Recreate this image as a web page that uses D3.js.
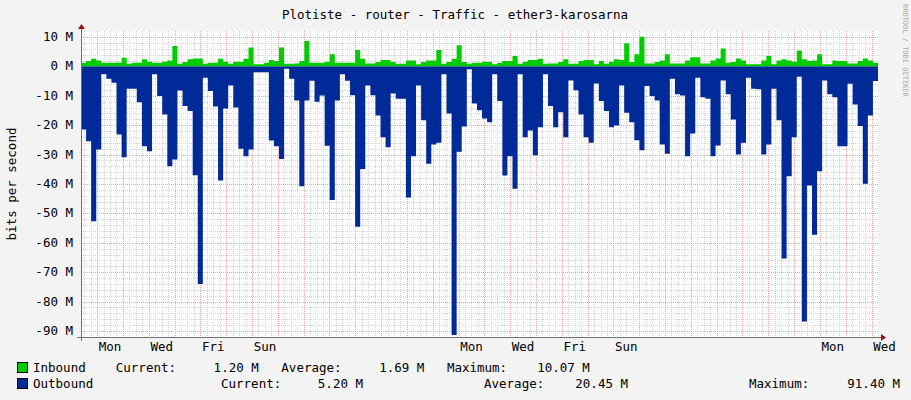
<!DOCTYPE html>
<html>
<head>
<meta charset="utf-8">
<script src="https://cdn.jsdelivr.net/npm/d3@7"></script>
<style>
  body { margin: 0; background: #f3f3f3; }
  text { font-family: "DejaVu Sans Mono", monospace; font-size: 12.5px; fill: #000; white-space: pre; }
</style>
</head>
<body>
<div class="chart"></div>
<script>
// Data (Mbit/s, one value per sample, ~4.7 h step)
const outbound = [21.5,25.5,52.7,28.3,2.7,4.2,5.6,23.2,30.9,7.6,7.6,12.2,27.2,28.9,2.7,10.1,16.4,34,31.7,8.2,
  13.5,15.2,37,74,3.9,8.4,13.6,38.8,14.3,6.5,14,28,30.6,28.3,2,2,2,25.2,27.2,31.5,
  0.8,4.2,11.6,40.8,11.6,4.9,12,9.9,27,45.4,11.6,2.7,4.9,9.8,54.5,34.9,6.5,9.8,16.7,24.1,
  27.5,9.2,11,11,44.6,30.6,6.5,18.3,33.1,26.6,26,2.7,16,91.4,29,20.4,1,12.6,14.9,17.7,
  19,2.7,11.8,37.1,30.6,41.6,2.7,24.1,21.8,30.2,20.7,2.7,13.5,20.7,15.6,24.1,4.8,8.1,16.4,24.1,
  26,5.8,11.8,15.2,20.7,20.1,6.5,15.8,19,25.1,28.5,6.7,10.1,11.6,26.6,29.7,4.2,9.5,9.9,30.6,
  22.8,3.9,10.5,11,30.6,26.9,4.8,9.5,18.1,30,26,3.9,7.6,7.8,30,26.6,7.6,18.3,65.3,37.4,
  24.1,3.5,86.8,40.5,57.3,35.7,4.8,9.5,10.5,27.2,27.2,5.9,13,20.3,39.9,16.7,5]
const inbound = [1.2,1.8,2.6,2.0,1.2,1.2,1.2,1.3,2.9,0.9,1.2,1.2,2.4,1.6,1.2,1.2,1.6,2.0,6.9,0.9,
  1.5,2.4,2.7,2.7,0.9,1.2,1.2,2.6,1.6,0.9,1.6,1.6,2.6,6.4,0.7,0.7,1.2,2.2,1.8,6.4,
  0.9,0.9,1.0,1.8,8.6,1.2,1.2,1.2,1.6,4.1,1.2,1.2,1.2,1.2,5.6,2.6,1.0,1.0,1.5,2.2,
  2.2,1.5,0.9,0.9,2.0,2.0,0.7,1.5,2.0,2.0,5.6,0.9,1.5,2.6,7.2,1.5,0.9,1.2,1.2,1.6,
  1.6,0.7,1.2,1.8,1.8,3.5,0.9,1.6,2.2,2.2,2.6,0.9,1.0,1.0,1.5,2.4,0.9,0.9,1.8,2.2,
  2.2,0.7,1.8,0.9,1.6,2.4,2.2,7.9,1.5,4.1,10.07,1.0,1.0,1.5,2.0,4.1,1.0,1.0,1.0,2.0,
  3.1,3.1,1.0,1.0,2.0,2.7,6.1,1.2,1.5,2.7,2.0,0.7,0.7,0.7,2.0,3.5,0.7,2.0,2.4,2.0,
  1.6,5.4,2.4,1.8,2.0,4.1,0.7,0.7,2.0,1.8,1.8,1.0,1.0,1.8,2.7,2.0,1.2]
const yTicks = [10,0,-10,-20,-30,-40,-50,-60,-70,-80,-90]
const dayNames = ['Sun','Mon','Tue','Wed','Thu','Fri','Sat']
const startTime = new Date(2023, 11, 31, 9, 0)
const totalHours = 741
const legendIn = ['Inbound', '1.20 M', '1.69 M', '10.07 M']
const legendOut = ['Outbound', '5.20 M', '20.45 M', '91.40 M']

const W = 911, H = 400
const plot = { x0: 81, x1: 878, y0: 31, y1: 337 }
const endTime = d3.timeHour.offset(startTime, totalHours)
const stepMs = (endTime - startTime) / outbound.length
const tAt = i => new Date(+startTime + i * stepMs)

const xScale = d3.scaleTime().domain([startTime, endTime]).range([plot.x0, plot.x1])
const yScale = d3.scaleLinear().domain([-90, 10]).range([331, 37])

const svg = d3.select('.chart').append('svg').attr('width', W).attr('height', H)
svg.append('rect').attr('width', W).attr('height', H).attr('fill', '#f3f3f3')
svg.append('rect').attr('x', plot.x0).attr('y', plot.y0)
  .attr('width', plot.x1 - plot.x0).attr('height', plot.y1 - plot.y0).attr('fill', '#fff')

const grid = svg.append('g')
// minor grid
d3.range(-92, 12, 2).forEach(v => {
  if (v % 10 === 0) return
  grid.append('line').attr('x1', plot.x0).attr('x2', plot.x1)
    .attr('y1', Math.round(yScale(v)) + 0.5).attr('y2', Math.round(yScale(v)) + 0.5)
    .attr('stroke', '#d4d4d4').attr('stroke-dasharray', '1,1')
})
d3.timeHour.every(6).range(startTime, endTime).forEach(t => {
  if (t.getHours() === 0) return
  const x = Math.round(xScale(t)) + 0.5
  grid.append('line').attr('x1', x).attr('x2', x).attr('y1', plot.y0).attr('y2', plot.y1)
    .attr('stroke', '#d4d4d4').attr('stroke-dasharray', '1,1')
})
// major grid
yTicks.forEach(v => {
  const y = Math.round(yScale(v)) + 0.5
  grid.append('line').attr('x1', plot.x0).attr('x2', plot.x1).attr('y1', y).attr('y2', y)
    .attr('stroke', '#f0a0a0').attr('stroke-dasharray', '1,1')
})
d3.timeDay.range(startTime, endTime).forEach(t => {
  const x = Math.round(xScale(t)) + 0.5
  grid.append('line').attr('x1', x).attr('x2', x).attr('y1', plot.y0).attr('y2', plot.y1)
    .attr('stroke', '#f0a0a0').attr('stroke-dasharray', '1,1')
})

// areas
const steps = arr => arr.map((v, i) => ({ t: tAt(i), v })).concat([{ t: endTime, v: arr[arr.length - 1] }])
const areaGen = d3.area().curve(d3.curveStepAfter).x(d => xScale(d.t)).y0(yScale(0))
svg.append('path').datum(steps(inbound)).attr('fill', '#00cc00')
  .attr('d', areaGen.y1(d => yScale(d.v)))
svg.append('path').datum(steps(outbound)).attr('fill', '#002a97')
  .attr('d', areaGen.y1(d => yScale(-d.v)))

// axes
svg.append('line').attr('x1', plot.x0 - 4).attr('x2', plot.x1 + 4).attr('y1', plot.y1 + 0.5).attr('y2', plot.y1 + 0.5)
  .attr('stroke', '#707070')
svg.append('line').attr('x1', plot.x0 + 0.5).attr('x2', plot.x0 + 0.5).attr('y1', plot.y0 - 4).attr('y2', plot.y1 + 4)
  .attr('stroke', '#707070')
svg.append('path').attr('d', `M${plot.x1 + 3},${plot.y1 - 3}L${plot.x1 + 8},${plot.y1 + 0.5}L${plot.x1 + 3},${plot.y1 + 4}Z`).attr('fill', '#a01010')
svg.append('path').attr('d', `M${plot.x0 - 3},${plot.y0 - 2}L${plot.x0 + 0.5},${plot.y0 - 7}L${plot.x0 + 4},${plot.y0 - 2}Z`).attr('fill', '#a01010')

yTicks.forEach(v => {
  svg.append('text').attr('x', 73).attr('y', yScale(v) + 4).attr('text-anchor', 'end').text(`${v} M`)
})
d3.timeDay.range(startTime, endTime).filter(t => t.getDay() % 2 === 1 || t.getDay() === 0)
  .forEach(t => {
    const mid = d3.timeHour.offset(t, 12)
    const diff = Math.round((t - d3.timeDay(new Date(2024, 0, 1))) / 864e5)
    if (((diff % 2) + 2) % 2 !== 0) return
    svg.append('text').attr('x', xScale(mid)).attr('y', 351).attr('text-anchor', 'middle').text(dayNames[t.getDay()])
  })

// title + labels
svg.append('text').attr('x', 455).attr('y', 19).attr('text-anchor', 'middle')
  .text('Plotiste - router - Traffic - ether3-karosarna')
svg.append('text').attr('transform', 'translate(16,184) rotate(-90)').attr('text-anchor', 'middle')
  .text('bits per second')
svg.append('text').attr('transform', 'translate(903,4) rotate(90)').style('font-size', '7px').attr('fill', '#999')
  .style('fill', '#aaa').text('RRDTOOL / TOBI OETIKER')

// legend
const legend = svg.append('g')
legend.append('rect').attr('x', 17.5).attr('y', 362.5).attr('width', 10).attr('height', 10).attr('fill', '#00cc00').attr('stroke', '#000')
legend.append('rect').attr('x', 17.5).attr('y', 378.5).attr('width', 10).attr('height', 10).attr('fill', '#002a97').attr('stroke', '#000')
legend.append('text').attr('x', 33).attr('y', 372)
  .text(`${legendIn[0]}    Current:     ${legendIn[1]}   Average:     ${legendIn[2]}   Maximum:    ${legendIn[3]}`)
legend.append('text').attr('x', 33).attr('y', 388).text(legendOut[0])
legend.append('text').attr('x', 221).attr('y', 388).text('Current:')
legend.append('text').attr('x', 363).attr('y', 388).attr('text-anchor', 'end').text(legendOut[1])
legend.append('text').attr('x', 484).attr('y', 388).text('Average:')
legend.append('text').attr('x', 628).attr('y', 388).attr('text-anchor', 'end').text(legendOut[2])
legend.append('text').attr('x', 749).attr('y', 388).text('Maximum:')
legend.append('text').attr('x', 900).attr('y', 388).attr('text-anchor', 'end').text(legendOut[3])
</script>
</body>
</html>
